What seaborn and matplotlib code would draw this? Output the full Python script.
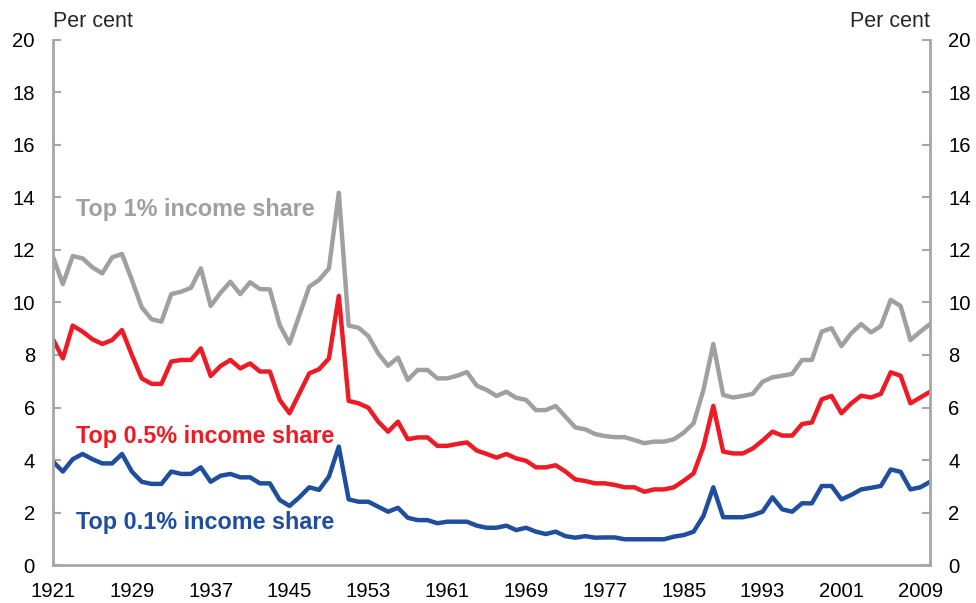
"""Top income shares chart, 1921-2010."""
import numpy as np
import pandas as pd
import matplotlib
matplotlib.use("Agg")
import matplotlib.pyplot as plt
import seaborn as sns

sns.set_style("white")
plt.rcParams["font.family"] = ["Liberation Sans", "DejaVu Sans"]

# --- Data (per cent) ---
years = list(range(1921, 2011))

top1 = [11.74, 10.70, 11.77, 11.68, 11.34, 11.11, 11.72, 11.85, 10.86, 9.82,
        9.36, 9.27, 10.32, 10.41, 10.56, 11.30, 9.87, 10.37, 10.79, 10.32,
        10.77, 10.51, 10.50, 9.14, 8.44, 9.52, 10.60, 10.86, 11.30, 14.18,
        9.12, 9.04, 8.72, 8.06, 7.59, 7.90, 7.05, 7.43, 7.43, 7.11,
        7.11, 7.21, 7.35, 6.83, 6.67, 6.44, 6.60, 6.37, 6.29, 5.90,
        5.90, 6.06, 5.65, 5.24, 5.17, 4.99, 4.91, 4.87, 4.87, 4.76,
        4.64, 4.70, 4.70, 4.79, 5.04, 5.40, 6.67, 8.42, 6.48, 6.38,
        6.44, 6.52, 6.98, 7.15, 7.21, 7.28, 7.81, 7.81, 8.89, 9.02,
        8.34, 8.83, 9.18, 8.86, 9.10, 10.10, 9.87, 8.57, 8.89, 9.18]

top05 = [8.60, 7.87, 9.12, 8.89, 8.60, 8.42, 8.57, 8.95, 8.00, 7.11,
         6.90, 6.90, 7.75, 7.81, 7.81, 8.25, 7.20, 7.58, 7.81, 7.49,
         7.68, 7.37, 7.37, 6.29, 5.78, 6.54, 7.30, 7.46, 7.87, 10.25,
         6.25, 6.16, 5.99, 5.46, 5.08, 5.46, 4.79, 4.86, 4.86, 4.54,
         4.54, 4.61, 4.67, 4.36, 4.23, 4.09, 4.23, 4.06, 3.97, 3.72,
         3.72, 3.80, 3.56, 3.26, 3.20, 3.11, 3.11, 3.05, 2.96, 2.96,
         2.79, 2.88, 2.88, 2.96, 3.21, 3.49, 4.51, 6.06, 4.32, 4.25,
         4.25, 4.44, 4.74, 5.08, 4.93, 4.93, 5.37, 5.43, 6.31, 6.44,
         5.78, 6.16, 6.45, 6.38, 6.52, 7.34, 7.21, 6.16, 6.38, 6.60]

top01 = [3.94, 3.56, 4.03, 4.23, 4.03, 3.87, 3.87, 4.23, 3.56, 3.17,
         3.09, 3.09, 3.56, 3.47, 3.47, 3.72, 3.17, 3.40, 3.47, 3.34,
         3.34, 3.11, 3.11, 2.48, 2.25, 2.58, 2.96, 2.86, 3.37, 4.51,
         2.50, 2.41, 2.41, 2.22, 2.03, 2.18, 1.80, 1.71, 1.71, 1.59,
         1.65, 1.65, 1.65, 1.50, 1.42, 1.42, 1.50, 1.33, 1.42, 1.27,
         1.18, 1.27, 1.10, 1.04, 1.10, 1.04, 1.05, 1.05, 0.98, 0.98,
         0.98, 0.98, 0.98, 1.08, 1.14, 1.27, 1.87, 2.96, 1.82, 1.82,
         1.82, 1.90, 2.03, 2.58, 2.12, 2.03, 2.35, 2.35, 3.01, 3.01,
         2.50, 2.67, 2.88, 2.94, 3.01, 3.64, 3.55, 2.88, 2.96, 3.17]

series_names = ["Top 1% income share", "Top 0.5% income share", "Top 0.1% income share"]
colors = ["#a0a0a0", "#ed1c24", "#1f4e9f"]
x_ticks = list(range(1921, 2010, 8))
y_ticks = list(range(0, 21, 2))

df = pd.DataFrame({"year": years, series_names[0]: top1,
                   series_names[1]: top05, series_names[2]: top01})
long = df.melt(id_vars="year", var_name="series", value_name="share")

# --- Plot ---
fig = plt.figure(figsize=(9.76, 6.03), dpi=100)
ax = fig.add_axes([0.0543, 0.063, 0.8987, 0.8707])

sns.lineplot(data=long, x="year", y="share", hue="series", hue_order=series_names,
             palette=colors, linewidth=3.2, legend=False, ax=ax)

ax.set_xlim(1921, 2010)
ax.set_ylim(0, 20)
ax.set_xticks(x_ticks)
ax.set_yticks(y_ticks)
ax.set_xlabel("")
ax.set_ylabel("")

axis_grey = "#a6a6a6"
for side in ["left", "right", "bottom"]:
    ax.spines[side].set_color(axis_grey)
    ax.spines[side].set_linewidth(2)
ax.spines["top"].set_visible(False)

ax.tick_params(axis="both", direction="in", length=6, width=1.5, color=axis_grey,
               labelsize=14.6, labelcolor="black")
ax.tick_params(axis="y", left=True, right=True, labelleft=True, labelright=True, pad=13)
ax.tick_params(axis="x", pad=12)

ax.text(0.0, 1.025, "Per cent", transform=ax.transAxes, fontsize=15.5,
        ha="left", va="baseline")
ax.text(1.0, 1.025, "Per cent", transform=ax.transAxes, fontsize=15.5,
        ha="right", va="baseline")

label_y = [13.55, 4.88, 1.62]
for name, c, yy in zip(series_names, colors, label_y):
    ax.text(1923.3, yy, name, color=c, fontsize=16.8, fontweight="bold",
            ha="left", va="center")

fig.savefig("out.png", dpi=100, facecolor="white")
plt.close(fig)
print("out.png OK")
